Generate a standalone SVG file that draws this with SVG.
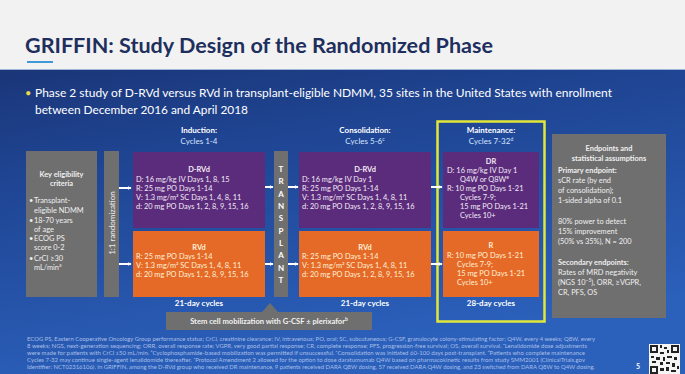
<svg xmlns="http://www.w3.org/2000/svg" width="685" height="374" viewBox="0 0 685 374">
<defs>
<linearGradient id="bg" x1="0" y1="0" x2="0.3" y2="1">
<stop offset="0" stop-color="#182c68"/>
<stop offset="0.45" stop-color="#1f4593"/>
<stop offset="1" stop-color="#2b60bb"/>
</linearGradient>
<marker id="ah" viewBox="0 0 6 6" refX="5" refY="3" markerWidth="4" markerHeight="4" orient="auto" markerUnits="userSpaceOnUse">
<path d="M0,0 L6,3 L0,6 z" fill="#ffffff"/>
</marker>
<style>
text{font-family:Lato,"Open Sans","Liberation Sans",sans-serif;}
.t{font-size:7.4px;fill:#f3ecf6;}
.to{font-size:7.4px;fill:#fff1d6;}
.b{font-weight:bold;}
.hd{font-size:8px;fill:#ffffff;font-weight:bold;text-anchor:middle;}
.sub{font-size:8px;fill:#d6e4ff;text-anchor:middle;}
.cyc{font-size:8px;fill:#ffffff;font-weight:bold;text-anchor:middle;}
.g{font-size:7.4px;fill:#efefef;}
.fn{font-size:5px;fill:#a8bfe8;}
.pur{fill:#5b2b7c;}
.org{fill:#e56a28;}
.gry{fill:#6f6f6f;}
.arr{stroke:#ffffff;stroke-width:2;fill:none;marker-end:url(#ah);}
</style>
</defs>
<rect x="0" y="0" width="685" height="374" fill="url(#bg)"/>
<rect x="0" y="0" width="685" height="69" fill="#f2f2f2"/>
<line x1="0" y1="69.5" x2="685" y2="69.5" stroke="#9fb6d8" stroke-width="1"/>
<text x="25" y="53" font-size="20" font-weight="bold" fill="#1e2f5e" textLength="468" lengthAdjust="spacingAndGlyphs">GRIFFIN: Study Design of the Randomized Phase</text>
<rect x="27" y="61" width="26" height="2" fill="#3d9ad6"/>
<text x="25" y="97" font-size="11" fill="#e8d84a">•</text>
<text x="35" y="97" font-size="11" fill="#ffffff" textLength="577" lengthAdjust="spacingAndGlyphs">Phase 2 study of D-RVd versus RVd in transplant-eligible NDMM, 35 sites in the United States with enrollment</text>
<text x="35" y="114" font-size="11" fill="#ffffff" textLength="213" lengthAdjust="spacingAndGlyphs">between December 2016 and April 2018</text>

<g id="eligibility">
<rect x="26" y="151" width="71" height="146" class="gry"/>
<text x="61.5" y="177" class="g b" text-anchor="middle">Key eligibility</text>
<text x="61.5" y="186" class="g b" text-anchor="middle">criteria</text>
<text x="29" y="203" class="g">•</text><text x="34" y="203" class="g">Transplant-</text>
<text x="34" y="213" class="g">eligible NDMM</text>
<text x="29" y="223" class="g">•</text><text x="34" y="223" class="g">18-70 years</text>
<text x="34" y="232" class="g">of age</text>
<text x="29" y="241" class="g">•</text><text x="34" y="241" class="g">ECOG PS</text>
<text x="34" y="250" class="g">score 0-2</text>
<text x="29" y="261" class="g">•</text><text x="34" y="261" class="g">CrCl ≥30</text>
<text x="34" y="270" class="g">mL/min<tspan font-size="5" dy="-3">a</tspan></text>
</g>

<g id="randomization">
<rect x="104" y="151" width="15" height="146" class="gry"/>
<text x="0" y="0" transform="translate(114.5,223) rotate(-90)" font-size="8" fill="#eeeeee" text-anchor="middle">1:1 randomization</text>
</g>

<g id="induction-header">
<text x="199" y="133" class="hd">Induction:</text>
<text x="199" y="144" class="sub">Cycles 1-4</text>
</g>
<g id="induction-drvd">
<rect x="133" y="152" width="132" height="76" class="pur"/>
<text x="199" y="172" class="t b" text-anchor="middle">D-RVd</text>
<text x="136" y="182" class="t">D: 16 mg/kg IV Days 1, 8, 15</text>
<text x="136" y="191" class="t">R: 25 mg PO Days 1-14</text>
<text x="136" y="200" class="t">V: 1.3 mg/m² SC Days 1, 4, 8, 11</text>
<text x="136" y="209" class="t">d: 20 mg PO Days 1, 2, 8, 9, 15, 16</text>
</g>
<g id="induction-rvd">
<rect x="133" y="231" width="132" height="66" class="org"/>
<text x="199" y="250" class="to b" text-anchor="middle">RVd</text>
<text x="136" y="259" class="to">R: 25 mg PO Days 1-14</text>
<text x="136" y="268" class="to">V: 1.3 mg/m² SC Days 1, 4, 8, 11</text>
<text x="136" y="277" class="to">d: 20 mg PO Days 1, 2, 8, 9, 15, 16</text>
</g>
<text x="199" y="306" class="cyc">21-day cycles</text>

<g id="transplant">
<rect x="274" y="151" width="14" height="146" class="gry"/>
<g font-size="8" font-weight="bold" fill="#ffffff" text-anchor="middle">
<text x="281" y="172">T</text>
<text x="281" y="184">R</text>
<text x="281" y="196.5">A</text>
<text x="281" y="209">N</text>
<text x="281" y="221">S</text>
<text x="281" y="233.5">P</text>
<text x="281" y="246">L</text>
<text x="281" y="258">A</text>
<text x="281" y="270.5">N</text>
<text x="281" y="283">T</text>
</g>
</g>

<g id="consolidation-header">
<text x="365" y="133" class="hd">Consolidation:</text>
<text x="365" y="144" class="sub">Cycles 5-6<tspan font-size="5" dy="-3">c</tspan></text>
</g>
<g id="consolidation-drvd">
<rect x="299" y="152" width="132" height="76" class="pur"/>
<text x="365" y="172" class="t b" text-anchor="middle">D-RVd</text>
<text x="302" y="182" class="t">D: 16 mg/kg IV Day 1</text>
<text x="302" y="191" class="t">R: 25 mg PO Days 1-14</text>
<text x="302" y="200" class="t">V: 1.3 mg/m² SC Days 1, 4, 8, 11</text>
<text x="302" y="209" class="t">d: 20 mg PO Days 1, 2, 8, 9, 15, 16</text>
</g>
<g id="consolidation-rvd">
<rect x="299" y="231" width="132" height="66" class="org"/>
<text x="365" y="250" class="to b" text-anchor="middle">RVd</text>
<text x="302" y="259" class="to">R: 25 mg PO Days 1-14</text>
<text x="302" y="268" class="to">V: 1.3 mg/m² SC Days 1, 4, 8, 11</text>
<text x="302" y="277" class="to">d: 20 mg PO Days 1, 2, 8, 9, 15, 16</text>
</g>
<text x="365" y="306" class="cyc">21-day cycles</text>

<g id="maintenance">
<rect x="437.5" y="121.5" width="107" height="200" fill="none" stroke="#e2e83a" stroke-width="2.5"/>
<text x="491" y="133" class="hd">Maintenance:</text>
<text x="491" y="144" class="sub">Cycles 7-32<tspan font-size="5" dy="-3">d</tspan></text>
</g>
<g id="maintenance-dr">
<rect x="443" y="152" width="96" height="76" class="pur"/>
<text x="491" y="164" class="t b" text-anchor="middle">DR</text>
<text x="447" y="173" class="t">D: 16 mg/kg IV Day 1</text>
<text x="460" y="182" class="t">Q4W or Q8W<tspan font-size="5" dy="-3">e</tspan></text>
<text x="447" y="191" class="t">R: 10 mg PO Days 1-21</text>
<text x="460" y="200" class="t">Cycles 7-9;</text>
<text x="460" y="209" class="t">15 mg PO Days 1-21</text>
<text x="460" y="218" class="t">Cycles 10+</text>
</g>
<g id="maintenance-r">
<rect x="443" y="231" width="96" height="66" class="org"/>
<text x="491" y="248" class="to b" text-anchor="middle">R</text>
<text x="447" y="258" class="to">R: 10 mg PO Days 1-21</text>
<text x="457" y="267" class="to">Cycles 7-9;</text>
<text x="457" y="276" class="to">15 mg PO Days 1-21</text>
<text x="457" y="285" class="to">Cycles 10+</text>
</g>
<text x="491" y="306" class="cyc">28-day cycles</text>

<g id="endpoints">
<rect x="552" y="134" width="114" height="184" class="gry"/>
<text x="609" y="151" class="g b" text-anchor="middle">Endpoints and</text>
<text x="609" y="161" class="g b" text-anchor="middle">statistical assumptions</text>
<text x="558" y="173" class="g b">Primary endpoint:</text>
<text x="558" y="183" class="g">sCR rate (by end</text>
<text x="558" y="193" class="g">of consolidation);</text>
<text x="558" y="203" class="g">1-sided alpha of 0.1</text>
<text x="558" y="224" class="g">80% power to detect</text>
<text x="558" y="234" class="g">15% improvement</text>
<text x="558" y="244" class="g">(50% vs 35%), N = 200</text>
<text x="558" y="265" class="g b">Secondary endpoints:</text>
<text x="558" y="275" class="g">Rates of MRD negativity</text>
<text x="558" y="285" class="g">(NGS 10<tspan font-size="5" dy="-3">−5</tspan><tspan dy="3">), ORR, ≥VGPR,</tspan></text>
<text x="558" y="295" class="g">CR, PFS, OS</text>
</g>

<g id="stem-cell">
<path d="M270,303 L262,312 L278,312 Z" class="gry"/>
<rect x="166" y="312" width="206" height="18" class="gry"/>
<text x="269" y="324" font-size="7.6" font-weight="bold" fill="#f2f2f2" text-anchor="middle">Stem cell mobilization with G-CSF ± plerixafor<tspan font-size="5" dy="-3">b</tspan></text>
</g>

<g id="connectors">
<line x1="119" y1="188" x2="131" y2="188" class="arr"/>
<line x1="119" y1="264" x2="131" y2="264" class="arr"/>
<line x1="265" y1="187" x2="273" y2="187" class="arr"/>
<line x1="265" y1="264" x2="273" y2="264" class="arr"/>
<line x1="288" y1="187" x2="298" y2="187" class="arr"/>
<line x1="288" y1="264" x2="298" y2="264" class="arr"/>
<line x1="431" y1="187" x2="442" y2="187" class="arr"/>
<line x1="431" y1="264" x2="442" y2="264" class="arr"/>
</g>

<g id="footnotes">
<text x="27" y="341" class="fn" textLength="568" lengthAdjust="spacingAndGlyphs">ECOG PS, Eastern Cooperative Oncology Group performance status; CrCl, creatinine clearance; IV, intravenous; PO, oral; SC, subcutaneous; G-CSF, granulocyte colony-stimulating factor; Q4W, every 4 weeks; Q8W, every</text>
<text x="27" y="348" class="fn" textLength="560" lengthAdjust="spacingAndGlyphs">8 weeks; NGS, next-generation sequencing; ORR, overall response rate; VGPR, very good partial response; CR, complete response; PFS, progression-free survival; OS, overall survival. ᵃLenalidomide dose adjustments</text>
<text x="27" y="355" class="fn" textLength="558" lengthAdjust="spacingAndGlyphs">were made for patients with CrCl ≤50 mL/min. ᵇCyclophosphamide-based mobilization was permitted if unsuccessful. ᶜConsolidation was initiated 60-100 days post-transplant. ᵈPatients who complete maintenance</text>
<text x="27" y="362" class="fn" textLength="558" lengthAdjust="spacingAndGlyphs">Cycles 7-32 may continue single-agent lenalidomide thereafter. ᵉProtocol Amendment 2 allowed for the option to dose daratumumab Q4W based on pharmacokinetic results from study SMM2001 (ClinicalTrials.gov</text>
<text x="27" y="369" class="fn" textLength="568" lengthAdjust="spacingAndGlyphs">Identifier: NCT02316106). In GRIFFIN, among the D-RVd group who received DR maintenance, 9 patients received DARA Q8W dosing, 57 received DARA Q4W dosing, and 23 switched from DARA Q8W to Q4W dosing.</text>
</g>

<text x="636" y="369" font-size="7" font-weight="bold" fill="#ffffff">5</text>
<g id="qr">
<rect x="649" y="344" width="31" height="30" fill="#f4f4f4"/>
<g fill="#222222">
<rect x="650" y="345" width="8" height="8"/><rect x="652" y="347" width="4" height="4" fill="#f4f4f4"/>
<rect x="671" y="345" width="8" height="8"/><rect x="673" y="347" width="4" height="4" fill="#f4f4f4"/>
<rect x="650" y="366" width="8" height="8"/><rect x="652" y="368" width="4" height="4" fill="#f4f4f4"/>
<rect x="660" y="345" width="2" height="3"/><rect x="664" y="347" width="3" height="2"/><rect x="667" y="350" width="2" height="3"/>
<rect x="660" y="352" width="4" height="2"/><rect x="651" y="356" width="3" height="2"/><rect x="656" y="357" width="4" height="3"/>
<rect x="663" y="357" width="2" height="4"/><rect x="667" y="356" width="5" height="2"/><rect x="674" y="357" width="3" height="3"/>
<rect x="652" y="361" width="4" height="2"/><rect x="660" y="362" width="3" height="3"/><rect x="666" y="362" width="4" height="2"/>
<rect x="672" y="363" width="3" height="4"/><rect x="660" y="368" width="4" height="3"/><rect x="666" y="367" width="3" height="4"/>
<rect x="671" y="370" width="5" height="2"/><rect x="677" y="366" width="2" height="3"/>
</g>
</g>
</svg>
